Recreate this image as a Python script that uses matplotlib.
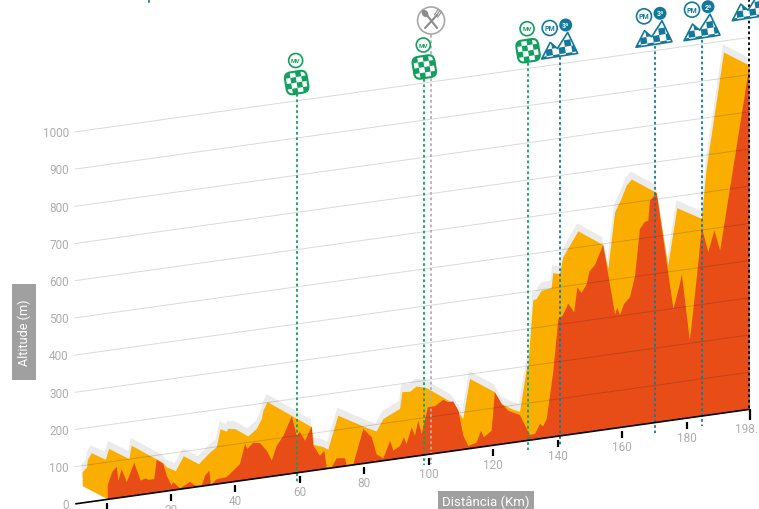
import matplotlib
matplotlib.use('Agg')
import matplotlib.pyplot as plt
from matplotlib.patches import Circle, Ellipse, FancyBboxPatch, Polygon, Rectangle
from matplotlib.transforms import Affine2D

plt.rcParams['font.family'] = ['Roboto', 'DejaVu Sans']

############################## DATA ##############################
# front face of the profile: distance (km), altitude (m)
km_front = [0.4, 0.4, 1.8, 3.2, 3.7, 4.7, 6.3, 8.6, 10.6, 12.2, 13, 14.8, 15.6, 17.6, 18.7, 20.2, 20.7, 22.8, 25.9,
            27.5, 29.5, 30.6, 31.9, 32.4, 34.2, 37.3, 41.4, 43, 43.7, 45.5, 47.6, 49.7, 51.3, 52.8, 54.9, 57.5, 59,
            60, 61.6, 63.7, 64.2, 66.2, 67.6, 68.3, 69.9, 71.4, 74, 74.5, 76.6, 79.7, 82.3, 83.8, 85.9, 88, 89, 91.1,
            92.3, 93.1, 94.7, 95.7, 96.7, 97.8, 99.7, 101.9, 104.5, 106, 107.6, 109.2, 110.7, 112.3, 114.9, 116.2,
            117.1, 119.5, 120.5, 122.6, 124.7, 128.3, 130.4, 131.4, 133, 134.5, 135.5, 136.6, 138.6, 140.2, 141.5,
            143.3, 144, 145.1, 146.1, 147.4, 149, 149.8, 151.6, 154.1, 157.8, 158.5, 159.3, 160.6, 162.4, 164, 165.5,
            167.1, 168.1, 168.6, 170.7, 175.9, 177.9, 178.5, 181, 183.1, 184.7, 186.7, 188.6, 190.4, 194.4, 199.5, 199.6]
alt_front = [0, 39, 72, 84, 46, 76, 39, 88, 38, 42, 37, 37, 88, 74, 41, 13, 22, 2, 16,
             4, 1, 27, 39, 0, 13, 15, 45, 97, 83, 97, 94, 71, 42, 80, 105, 154, 100,
             109, 83, 119, 67, 37, 49, 3, 2, 24, 21, 2, 2, 93, 67, 20, 6, 51, 23, 34,
             55, 36, 79, 55, 94, 57, 127, 127, 141, 133, 133, 106, 37, 7, 14, 44,
             25, 40, 142, 108, 87, 71, 31, 14, 15, 40, 32, 51, 174, 315, 322,
             352, 342, 327, 393, 376, 398, 430, 447, 497, 305, 324, 302, 331, 346, 402, 526,
             544, 545, 598, 617, 298, 363, 389, 207, 370, 507, 438, 494, 438, 652, 924, 0]

# ridge of the profile behind it
km_ridge = [-7.4, -7.4, -6, -5.8, -4.6, -0.2, 0.8, 7.1, 7.8, 17.6, 18.7, 21.5, 24, 28.7, 32.3, 34.2, 35.4, 37.3, 37.8,
            39.9, 44, 46.6, 48.2, 48.7, 50, 63.7, 64.2, 67.3, 68.8, 71.9, 80.2, 83.8, 85.9, 91.1, 91.8, 94.2, 96.2,
            99.3, 107.1, 110.7, 112.8, 120.5, 122.6, 126.2, 128.3, 130.4, 130.9, 132.4, 133.5, 135, 138.1, 138.6,
            140.7, 141.7, 146.4, 154.1, 155.7, 157.8, 159.9, 161.4, 163, 170.7, 174.3, 177.1, 184.7, 186.2, 191.6,
            199.5, 199.6, 0.4]
alt_ridge = [45, 82, 94, 113, 130, 107, 135, 100, 135, 77, 64, 50, 87, 60, 88, 99, 146, 137, 144,
             141, 116, 133, 158, 180, 201, 117, 69, 59, 50, 138, 97, 81, 112, 133, 177, 175, 187,
             179, 131, 82, 187, 142, 108, 88, 80, 192, 201, 374, 377, 397, 400, 440,
             435, 479, 543, 497, 430, 580, 616, 648, 662, 617, 417, 568, 530, 662, 969,
             924, 0, 0]

alt_grid = [0, 100, 200, 300, 400, 500, 600, 700, 800, 900, 1000]
km_ticks = [0, 20, 40, 60, 80, 100, 120, 140, 160, 180, 199.6]
km_labels = ['', '20', '40', '60', '80', '100', '120', '140', '160', '180', '198.6']

# sprint points, climbs and the feed zone
sprint_km = [59.0, 98.6, 130.8]
sprint_label = ['MV', 'MV', 'MV']
climb_km = [140.7, 170.2, 184.9]
climb_cat = ['3ª', '3ª', '2ª']
feed_km = 100.7
finish_km = 199.5

############################## STYLE ##############################
C_YELLOW = '#f9ae00'
C_RED = '#e84d17'
C_SHADE = '#ebebeb'
C_LABEL = '#adadad'
C_BOX = '#a0a0a0'
C_GREEN = '#11a05e'
C_BLUE = '#13789a'

fig = plt.figure(figsize=(7.59, 5.10), dpi=100)
ax = fig.add_axes([0, 0, 1, 1])
ax.set_xlim(0, 759)
ax.set_ylim(510, 0)
ax.axis('off')

# km/altitude to picture pixels, the chart is sheared so the road climbs to the right
skew = Affine2D.from_values(3.223, -0.4519, 0, -0.372, 106.5, 500.5)
data_tr = skew + ax.transData
shade_tr = skew + Affine2D().translate(-1, -8) + ax.transData

ax.fill(km_ridge, alt_ridge, color=C_SHADE, lw=0, transform=shade_tr, zorder=1)
ax.fill(km_ridge, alt_ridge, color=C_YELLOW, lw=0, transform=data_tr, zorder=2)
ax.fill(km_front, alt_front, color=C_RED, lw=0, transform=data_tr, zorder=3)

# grid and labels
for a in alt_grid:
    if a == 0:
        continue
    ax.plot([-9.7, 199.6], [a, a], color='black', alpha=0.15, lw=0.7, transform=data_tr, zorder=4)
    ax.text(-11.7, a, str(a), color=C_LABEL, fontsize=8.5, ha='right', va='center', transform=data_tr)
ax.text(-11.7, 0, '0', color=C_LABEL, fontsize=8.5, ha='right', va='center', transform=data_tr)
ax.plot([-9.7, 199.6], [0, 0], color='black', lw=1.2, transform=data_tr, zorder=6, solid_capstyle='butt')

for k, lab in zip(km_ticks, km_labels):
    top = 0 if lab == '198.6' else -10
    ax.plot([k, k], [top, -28], color='black', lw=1.6, transform=data_tr, zorder=6, solid_capstyle='butt')
    if lab:
        ax.text(k, -51, lab, color=C_LABEL, fontsize=8.5, ha='center', va='center', transform=data_tr)

ax.add_patch(Rectangle((12, 285), 24, 96, color=C_BOX, lw=0))
ax.text(24, 333, 'Altitude (m)', color='white', fontsize=9, rotation=90, ha='center', va='center')
ax.add_patch(Rectangle((438, 492), 96, 18, color=C_BOX, lw=0))
ax.text(486, 502, 'Distância (Km)', color='white', fontsize=9.5, ha='center', va='center')


def drop_line(km, y_top, color):
    x, y_bot = skew.transform((km, -27))
    ax.plot([x, x], [y_top, y_bot], color=color, lw=1.3, ls=(0, (1.5, 1.5)), zorder=5)
    return x


def checks(cx, cy, w, h, cell, color, clip, angle):
    tr = Affine2D().rotate_deg(angle).translate(cx, cy) + ax.transData
    nx = int(w / cell) + 1
    ny = int(h / cell) + 1
    for i in range(nx):
        for j in range(ny):
            if (i + j) % 2 == 0:
                r = Rectangle((-w / 2 + i * cell, -h / 2 + j * cell), cell, cell, color=color, lw=0,
                              transform=tr, zorder=8)
                ax.add_patch(r)
                r.set_clip_path(clip)


def sprint_sign(x, y, lab):
    tr = Affine2D().rotate_deg(-9).translate(x, y) + ax.transData
    box = FancyBboxPatch((-11, -11), 22, 22, boxstyle='round,pad=0,rounding_size=6', fc='white', ec=C_GREEN,
                         lw=1.5, transform=tr, zorder=7)
    ax.add_patch(box)
    checks(x, y, 22, 22, 5.5, C_GREEN, box, -9)
    ax.add_patch(Ellipse((x - 1, y - 22), 14, 14, fc='white', ec=C_GREEN, lw=1.2, zorder=7))
    ax.text(x - 1, y - 22, lab, color=C_GREEN, fontsize=4.5, fontweight='bold', ha='center', va='center', zorder=9)


def climb_sign(x0, y0, cat=None):
    pts = [(x0, y0), (x0 + 8.5, y0 - 16.6), (x0 + 15.7, y0 - 10.5), (x0 + 26, y0 - 26.6), (x0 + 36, y0 - 5.6)]
    shape = Polygon(pts, closed=True, fc='white', ec=C_BLUE, lw=1.2, joinstyle='round', zorder=7)
    ax.add_patch(shape)
    checks(x0 + 18, y0 - 13, 42, 36, 6.5, C_BLUE, shape, -9)
    if cat:
        ax.add_patch(Ellipse((x0 + 8, y0 - 31), 15, 15, fc='white', ec=C_BLUE, lw=1.2, zorder=7))
        ax.text(x0 + 8, y0 - 31, 'PM', color=C_BLUE, fontsize=5, fontweight='bold', ha='center', va='center', zorder=9)
        ax.add_patch(Circle((x0 + 24, y0 - 34), 6.5, fc=C_BLUE, ec='none', zorder=7))
        ax.text(x0 + 24, y0 - 34, cat, color='white', fontsize=5, fontweight='bold', ha='center', va='center', zorder=9)


# sprints
for k, lab, top, cy in zip(sprint_km, sprint_label, [95, 80, 64], [83.5, 68, 51.7]):
    x = drop_line(k, top, C_GREEN)
    sprint_sign(x, cy, lab)

# climbs
for k, cat, top, y0, x0 in zip(climb_km, climb_cat, [58, 47, 41], [60, 48.3, 41.7], [541.7, 636, 684]):
    drop_line(k, top, C_BLUE)
    climb_sign(x0, y0, cat)
climb_sign(732.3, 21.7)

# feed zone, fork and spoon in a ring
x_feed = drop_line(feed_km, 36, '#b0b0b0')
ax.add_patch(Circle((x_feed, 21.5), 13.5, fc='white', ec='#a8a8a8', lw=1.2, zorder=7))
ax.plot([x_feed - 5, x_feed + 6], [15, 29], color='#8c8c8c', lw=1.5, zorder=8, solid_capstyle='round')
ax.add_patch(Ellipse((x_feed - 6, 14.5), 6, 8, angle=-38, fc='#8c8c8c', ec='none', zorder=8))
ax.plot([x_feed + 6, x_feed - 6], [16, 29], color='#8c8c8c', lw=1.5, zorder=8, solid_capstyle='round')
for d in [-2, 0, 2]:
    ax.plot([x_feed + 5 + d * 0.8, x_feed + 8.5 + d * 0.8], [17 + d * 0.6, 12 + d * 0.6], color='#8c8c8c', lw=0.8, zorder=8)

# finish line, and the end of a sign cut off above the picture
ax.plot([skew.transform((finish_km, 0))[0]] * 2, [0, skew.transform((finish_km, 0))[1]], color='black', lw=1.3,
        ls=(0, (1.5, 1.5)), zorder=5)
ax.plot([149, 149], [0, 3], color=C_BLUE, lw=1.2, zorder=5)

fig.savefig('out.png', dpi=100)
